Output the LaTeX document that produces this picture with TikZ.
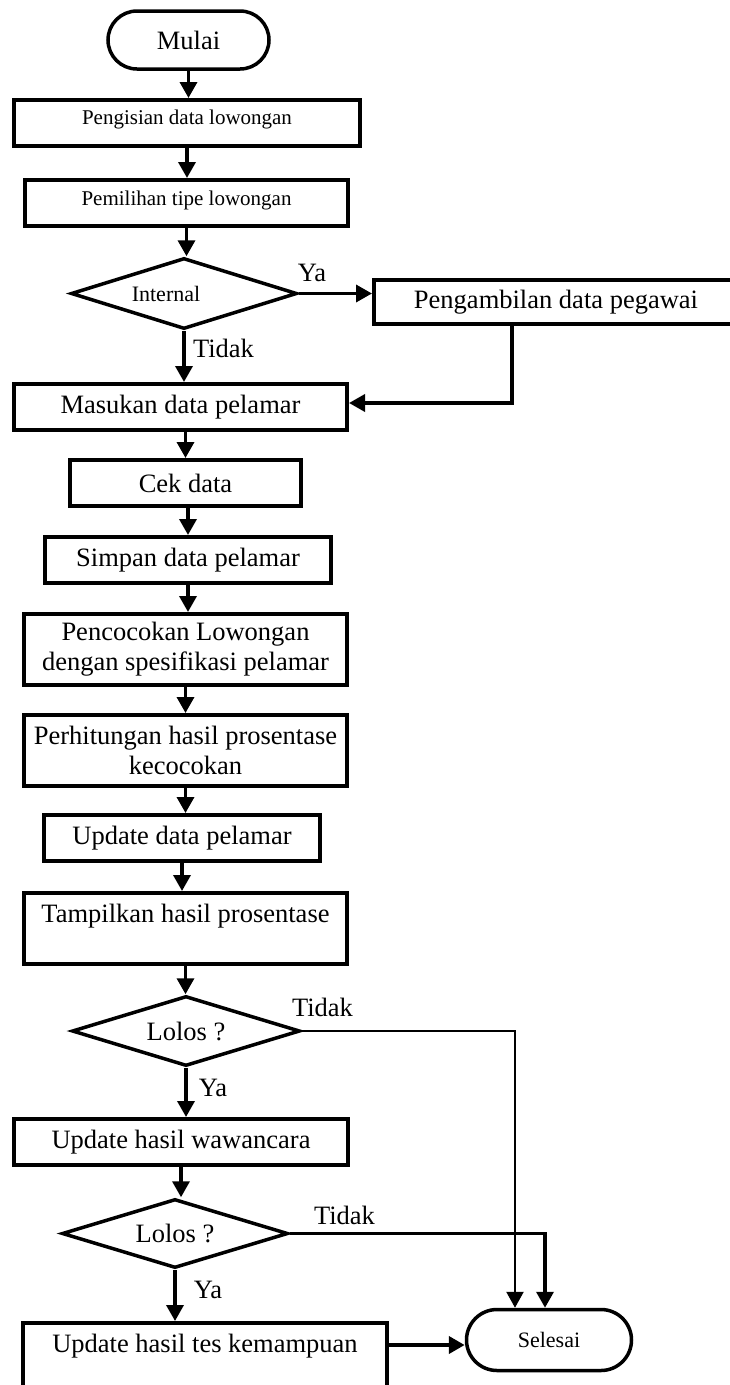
\documentclass[tikz,border=0pt]{standalone}
\usepackage{fontspec}
\setmainfont{Liberation Serif}
\usetikzlibrary{shapes.geometric,shapes.misc,arrows.meta}

\begin{document}
\begin{tikzpicture}[x=1pt, y=-1pt,
    proc/.style={draw, line width=4pt, rectangle, inner sep=0pt, align=center,
        font=\fontsize{26.5}{30}\selectfont},
    decision/.style={draw, line width=3.5pt, diamond, aspect=3.1, inner sep=0pt,
        font=\fontsize{26.5}{30}\selectfont},
    term/.style={draw, line width=3.5pt, rounded rectangle, inner sep=0pt,
        font=\fontsize{26.5}{30}\selectfont},
    flow/.style={line width=3.5pt, -{Triangle[length=16pt,width=17pt]}},
    answer/.style={inner sep=0pt, font=\fontsize{26.5}{30}\selectfont}]
    \useasboundingbox (0,0) rectangle (730,1385);

    % Define the steps of the flow
    \node[term, minimum width=161pt, minimum height=58pt] (mulai) at (188.5,40) {Mulai};
    \node[proc, minimum width=346pt, minimum height=46pt, text depth=12pt,
        font=\fontsize{21}{25}\selectfont] (isi) at (187,123) {Pengisian data lowongan};
    \node[proc, minimum width=323pt, minimum height=46pt, text depth=10pt,
        font=\fontsize{21}{25}\selectfont] (tipe) at (186.5,203) {Pemilihan tipe lowongan};
    \node[decision, minimum width=226pt, minimum height=71pt,
        font=\fontsize{22}{26}\selectfont] (internal) at (184,293.5) {Internal\hspace*{36pt}};
    \node[proc, minimum width=364pt, minimum height=44pt] (ambil) at (556,302) {Pengambilan data pegawai};
    \node[proc, minimum width=333pt, minimum height=46pt] (masukan) at (180.5,407) {Masukan data pelamar};
    \node[proc, minimum width=231pt, minimum height=46pt] (cek) at (185.5,483) {Cek data};
    \node[proc, minimum width=286pt, minimum height=46pt] (simpan) at (188,560) {Simpan data pelamar};
    \node[proc, minimum width=323pt, minimum height=71pt] (cocok) at (185.5,649.5)
        {Pencocokan Lowongan\\dengan spesifikasi pelamar};
    \node[proc, minimum width=323pt, minimum height=71pt] (hitung) at (185.5,750.5)
        {Perhitungan hasil prosentase\\kecocokan};
    \node[proc, minimum width=276pt, minimum height=46pt] (updata) at (182,838) {Update data pelamar};
    \node[proc, minimum width=323pt, minimum height=71pt] (tampil) at (185.5,928.5)
        {Tampilkan hasil prosentase\\\mbox{}};
    \node[decision, minimum width=228pt, minimum height=70pt] (lolos1) at (186,1031) {Lolos ?};
    \node[proc, minimum width=334pt, minimum height=46pt] (wawan) at (181,1142) {Update hasil wawancara};
    \node[decision, minimum width=226pt, minimum height=69pt] (lolos2) at (175,1233.5) {Lolos ?};
    \node[proc, minimum width=364pt, minimum height=71pt] (tes) at (205,1358.5)
        {Update hasil tes kemampuan\\\mbox{}};
    \node[term, minimum width=165pt, minimum height=61pt,
        font=\fontsize{22}{26}\selectfont] (selesai) at (549,1340) {Selesai};
    \coordinate (belok) at (512,403);

    % Draw the main line
    \draw[flow] (mulai.south) -- (mulai.south |- isi.north);
    \draw[flow] (isi.south) -- (isi.south |- tipe.north);
    \draw[flow] (tipe.south) -- (tipe.south |- internal.north);
    \draw[flow] (internal.south) -- (internal.south |- masukan.north);
    \draw[flow] (masukan.south -| cek.north) -- (cek.north);
    \draw[flow] (cek.south -| simpan.north) -- (simpan.north);
    \draw[flow] (simpan.south) -- (simpan.south |- cocok.north);
    \draw[flow] (cocok.south) -- (cocok.south |- hitung.north);
    \draw[flow] (hitung.south) -- (hitung.south |- updata.north);
    \draw[flow] (updata.south) -- (updata.south |- tampil.north);
    \draw[flow] (tampil.south) -- (tampil.south |- lolos1.north);
    \draw[flow] (lolos1.south) -- (lolos1.south |- wawan.north);
    \draw[flow] (wawan.south) -- (wawan.south |- lolos2.north);
    \draw[flow] (lolos2.south) -- (lolos2.south |- tes.north);

    % Draw the side branches
    \draw[flow] (internal.east) -- (internal.east -| ambil.west);
    \draw[flow] (ambil.south -| belok) -- (belok) -- (belok -| masukan.east);
    \draw[flow, line width=2.5pt] (lolos1.east) -| ([xshift=-34pt]selesai.north);
    \draw[flow] (lolos2.east) -| ([xshift=-4pt]selesai.north);
    \draw[flow, line width=4.5pt] ([yshift=-5pt]selesai.west -| tes.east) -- ([yshift=-5pt]selesai.west);

    % Labels for the answers
    \node[answer] (ya1) at (312,273) {Ya};
    \node[answer] (tidak1) at (223.5,348) {Tidak};
    \node[answer] (tidak2) at (322.5,1007) {Tidak};
    \node[answer] (ya2) at (213,1088) {Ya};
    \node[answer] (tidak3) at (344.5,1215) {Tidak};
    \node[answer] (ya3) at (208,1290) {Ya};
\end{tikzpicture}
\end{document}
